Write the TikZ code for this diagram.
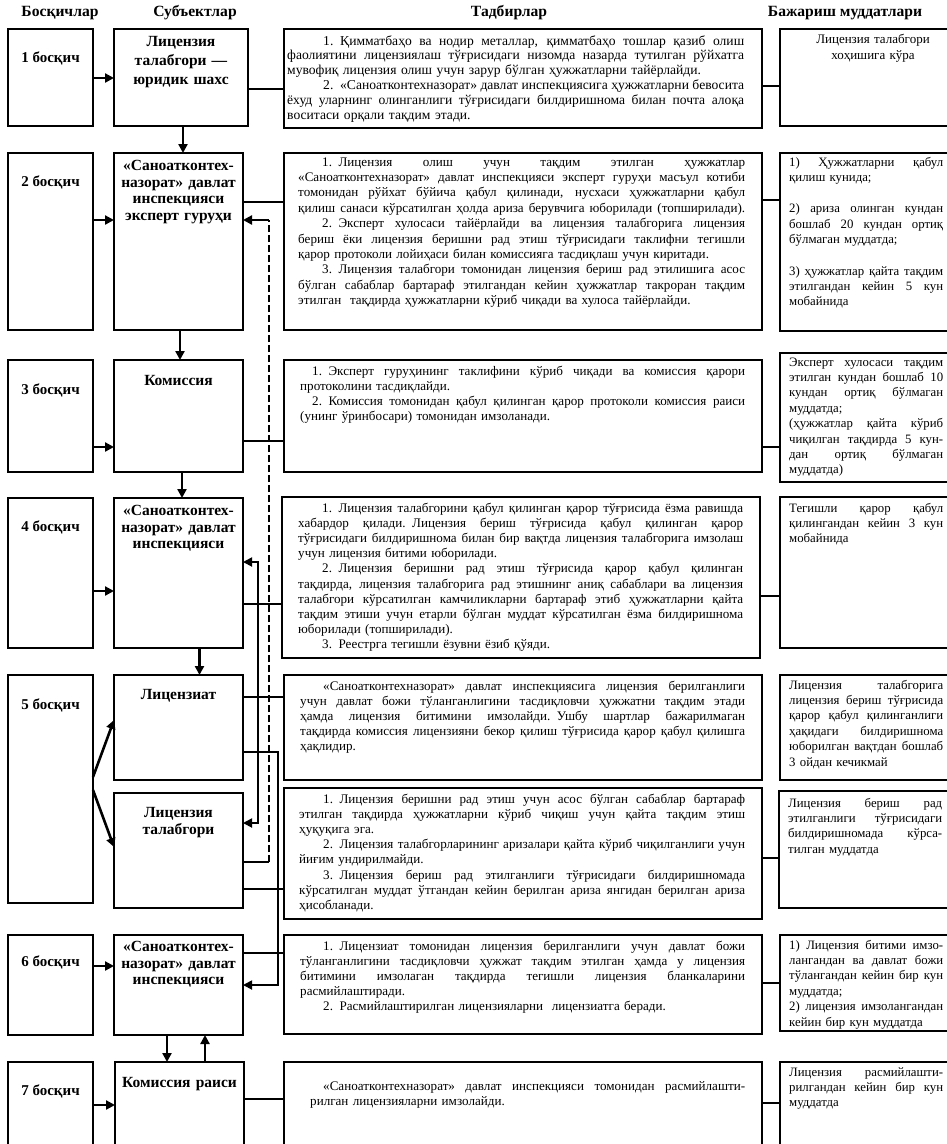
\documentclass[tikz,border=0pt]{standalone}
\usepackage{fontspec}
\setmainfont{Liberation Serif}
\usetikzlibrary{arrows.meta}
\newcommand\jl[2][445pt]{\makebox[#1][s]{\spaceskip=\fontdimen2\font plus 1fil\relax #2}}
\newcommand\jr[1]{\makebox[154pt][s]{\spaceskip=\fontdimen2\font plus 1fil\relax #1}}
\newcommand\bx[5]{\node[boxst, minimum width={#4-#2}, minimum height={#5-#3}] (#1) at (#2,#3) {};}
\tikzset{
  boxst/.style={draw, line width=1.8pt, inner sep=0pt, outer sep=0pt, anchor=north west},
  hdr/.style={font=\fontsize{15.6}{17}\selectfont\bfseries, inner sep=0pt},
  stg/.style={font=\fontsize{15}{17}\selectfont\bfseries, inner sep=0pt},
  sbj/.style={font=\fontsize{15.5}{16.5}\selectfont\bfseries, align=center, text width=150pt, inner sep=0pt, anchor=base},
  midt/.style={font=\fontsize{13.1}{15.2}\selectfont, align=left, inner sep=0pt, anchor=base west, text width=470pt},
  rgtt/.style={font=\fontsize{12.8}{15.4}\selectfont, align=left, inner sep=0pt, anchor=base west, text width=180pt},
  conn/.style={line width=1.3pt},
  medl/.style={line width=1.8pt},
  arr/.style={line width=2.6pt, -{Triangle[length=9pt,width=9pt]}},
  dsh/.style={line width=2.4pt, dash pattern=on 7pt off 3pt},
}
\begin{document}
\begin{tikzpicture}[x=1pt,y=-1pt]
\useasboundingbox (0,0) rectangle (946,1144);
\fill[white] (0,0) rectangle (946,1144);
% headers
\node[hdr] (h1) at (60,13) {Босқичлар};
\node[hdr] (h2) at (195,13) {Субъектлар};
\node[hdr] (h3) at (509,13) {Тадбирлар};
\node[hdr] (h4) at (845,13) {Бажариш муддатлари};
% stage boxes
\bx{st1}{8}{29}{93}{126}
\bx{st2}{8}{153}{93}{330}
\bx{st3}{8}{360}{93}{472}
\bx{st4}{8}{498}{93}{648}
\bx{st5}{8}{675}{93}{903}
\bx{st6}{8}{935}{93}{1035}
\bx{st7}{8}{1062}{93}{1160}
% subject boxes
\bx{sb1}{114}{29}{248}{126}
\bx{sb2}{114}{153}{243}{330}
\bx{sb3}{114}{360}{243}{472}
\bx{sb4}{114}{498}{243}{648}
\bx{sb5a}{114}{675}{243}{780}
\bx{sb5b}{114}{793}{243}{908}
\bx{sb6}{114}{935}{243}{1035}
\bx{sb7}{115}{1062}{244}{1160}
% middle boxes
\bx{m1}{284}{29}{762}{128}
\bx{m2}{284}{153}{762}{330}
\bx{m3}{284}{360}{762}{472}
\bx{m4}{282}{497}{760}{658}
\bx{m5a}{284}{675}{762}{780}
\bx{m5b}{284}{788}{762}{919}
\bx{m6}{284}{935}{762}{1034}
\bx{m7}{284}{1062}{762}{1160}
% right boxes
\bx{r1}{780}{29}{960}{126}
\bx{r2}{780}{153}{960}{331}
\bx{r3}{780}{353}{960}{482}
\bx{r4}{780}{497}{960}{648}
\bx{r5a}{780}{675}{960}{780}
\bx{r5b}{779}{791}{960}{908}
\bx{r6}{780}{935}{960}{1031}
\bx{r7}{780}{1062}{960}{1160}
% stage labels
\node[stg] (l1) at (50.5,58) {1 босқич};
\node[stg] (l2) at (50.5,182) {2 босқич};
\node[stg] (l3) at (50.5,390) {3 босқич};
\node[stg] (l4) at (50.5,527) {4 босқич};
\node[stg] (l5) at (50.5,705) {5 босқич};
\node[stg] (l6) at (50.5,962) {6 босқич};
\node[stg] (l7) at (50.5,1091) {7 босқич};
% subject labels
\node[sbj, font=\fontsize{15.5}{19}\selectfont\bfseries] (s1) at (181,46.5) {Лицензия\\талабгори —\\юридик шахс};
\node[sbj] (s2) at (178.5,170.5) {«Саноатконтех-\\назорат» давлат\\инспекцияси\\эксперт гуруҳи};
\node[sbj] (s3) at (178.5,385.5) {Комиссия};
\node[sbj] (s4) at (178.5,515.5) {«Саноатконтех-\\назорат» давлат\\инспекцияси};
\node[sbj] (s5a) at (178.5,699.5) {Лицензиат};
\node[sbj] (s5b) at (178.5,817.5) {Лицензия\\талабгори};
\node[sbj] (s6) at (178.5,951.5) {«Саноатконтех-\\назорат» давлат\\инспекцияси};
\node[sbj] (s7) at (179.5,1087.5) {Комиссия раиси};
% middle texts
\node[midt, font=\fontsize{13.6}{14.8}\selectfont] (t1) at (287,45) {%
\jl[457pt]{\hspace*{36pt}1. Қимматбаҳо ва нодир металлар, қимматбаҳо тошлар қазиб олиш}\\
\jl[457pt]{фаолиятини лицензиялаш тўғрисидаги низомда назарда тутилган рўйхатга}\\
мувофиқ лицензия олиш учун зарур бўлган ҳужжатларни тайёрлайди.\\
\jl[457pt]{\hspace*{36pt}2. «Саноатконтехназорат» давлат инспекциясига ҳужжатларни бевосита}\\
\jl[457pt]{ёхуд уларнинг олинганлиги тўғрисидаги билдиришнома билан почта алоқа}\\
воситаси орқали тақдим этади.};
\node[midt, font=\fontsize{13.1}{15.4}\selectfont] (t2) at (298,166) {%
\jl[447pt]{\hspace*{24pt}1. Лицензия олиш учун тақдим этилган ҳужжатлар}\\
\jl[447pt]{«Саноатконтехназорат» давлат инспекцияси эксперт гуруҳи масъул котиби}\\
\jl[447pt]{томонидан рўйхат бўйича қабул қилинади, нусхаси ҳужжатларни қабул}\\
\jl[447pt]{қилиш санаси кўрсатилган ҳолда ариза берувчига юборилади (топширилади).}\\
\jl[447pt]{\hspace*{24pt}2. Эксперт хулосаси тайёрлайди ва лицензия талабгорига лицензия}\\
\jl[447pt]{бериш ёки лицензия беришни рад этиш тўғрисидаги таклифни тегишли}\\
қарор протоколи лойиҳаси билан комиссияга тасдиқлаш учун киритади.\\
\jl[447pt]{\hspace*{24pt}3. Лицензия талабгори томонидан лицензия бериш рад этилишига асос}\\
\jl[447pt]{бўлган сабаблар бартараф этилгандан кейин ҳужжатлар такроран тақдим}\\
этилган\ \ тақдирда ҳужжатларни кўриб чиқади ва хулоса тайёрлайди.};
\node[midt, font=\fontsize{13.1}{15}\selectfont] (t3) at (300,375) {%
\jl{\hspace*{12pt}1. Эксперт гуруҳининг таклифини кўриб чиқади ва комиссия қарори}\\
протоколини тасдиқлайди.\\
\jl{\hspace*{12pt}2. Комиссия томонидан қабул қилинган қарор протоколи комиссия раиси}\\
(унинг ўринбосари) томонидан имзоланади.};
\node[midt] (t4) at (298,512) {%
\jl{\hspace*{24pt}1. Лицензия талабгорини қабул қилинган қарор тўғрисида ёзма равишда}\\
\jl{хабардор қилади. Лицензия бериш тўғрисида қабул қилинган қарор}\\
\jl{тўғрисидаги билдиришнома билан бир вақтда лицензия талабгорига имзолаш}\\
учун лицензия битими юборилади.\\
\jl{\hspace*{24pt}2. Лицензия беришни рад этиш тўғрисида қарор қабул қилинган}\\
\jl{тақдирда, лицензия талабгорига рад этишнинг аниқ сабаблари ва лицензия}\\
\jl{талабгори кўрсатилган камчиликларни бартараф этиб ҳужжатларни қайта}\\
\jl{тақдим этиши учун етарли бўлган муддат кўрсатилган ёзма билдиришнома}\\
юборилади (топширилади).\\
\hspace*{24pt}3. Реестрга тегишли ёзувни ёзиб қўяди.};
\node[midt] (t5a) at (300,690) {%
\jl{\hspace*{23pt}«Саноатконтехназорат» давлат инспекциясига лицензия берилганлиги}\\
\jl{учун давлат божи тўланганлигини тасдиқловчи ҳужжатни тақдим этади}\\
\jl{ҳамда лицензия битимини имзолайди. Ушбу шартлар бажарилмаган}\\
\jl{тақдирда комиссия лицензияни бекор қилиш тўғрисида қарор қабул қилишга}\\
ҳақлидир.};
\node[midt] (t5b) at (299,803) {%
\jl[446pt]{\hspace*{24pt}1. Лицензия беришни рад этиш учун асос бўлган сабаблар бартараф}\\
\jl[446pt]{этилган тақдирда ҳужжатларни кўриб чиқиш учун қайта тақдим этиш}\\
ҳуқуқига эга.\\
\jl[446pt]{\hspace*{24pt}2. Лицензия талабгорларининг аризалари қайта кўриб чиқилганлиги учун}\\
йиғим ундирилмайди.\\
\jl[446pt]{\hspace*{24pt}3. Лицензия бериш рад этилганлиги тўғрисидаги билдиришномада}\\
\jl[446pt]{кўрсатилган муддат ўтгандан кейин берилган ариза янгидан берилган ариза}\\
ҳисобланади.};
\node[midt] (t6) at (300,950) {%
\jl{\hspace*{23pt}1. Лицензиат томонидан лицензия берилганлиги учун давлат божи}\\
\jl{тўланганлигини тасдиқловчи ҳужжат тақдим этилган ҳамда у лицензия}\\
\jl{битимини имзолаган тақдирда тегишли лицензия бланкаларини}\\
расмийлаштиради.\\
\hspace*{23pt}2. Расмийлаштирилган лицензияларни\ \ лицензиатга беради.};
\node[midt] (t7) at (310,1090) {%
\jl[435pt]{\hspace*{13pt}«Саноатконтехназорат» давлат инспекцияси томонидан расмийлашти-}\\
рилган лицензияларни имзолайди.};
% right texts
\node[font=\fontsize{13}{16}\selectfont, align=center, text width=170pt, inner sep=0pt, anchor=base] (u1) at (873,43) {Лицензия талабгори\\хоҳишига кўра};
\node[rgtt] (u2) at (789,166) {%
\jr{1) Ҳужжатларни қабул}\\
қилиш кунида;\\[16pt]
\jr{2) ариза олинган кундан}\\
\jr{бошлаб 20 кундан ортиқ}\\
бўлмаган муддатда;\\[16pt]
\jr{3) ҳужжатлар қайта тақдим}\\
\jr{этилгандан кейин 5 кун}\\
мобайнида};
\node[rgtt] (u3) at (789,366) {%
\jr{Эксперт хулосаси тақдим}\\
\jr{этилган кундан бошлаб 10}\\
\jr{кундан ортиқ бўлмаган}\\
муддатда;\\
\jr{(ҳужжатлар қайта кўриб}\\
\jr{чиқилган тақдирда 5 кун-}\\
\jr{дан ортиқ бўлмаган}\\
муддатда)};
\node[rgtt] (u4) at (789,512) {%
\jr{Тегишли қарор қабул}\\
\jr{қилингандан кейин 3 кун}\\
мобайнида};
\node[rgtt] (u5a) at (789,689) {%
\jr{Лицензия талабгорига}\\
\jr{лицензия бериш тўғрисида}\\
\jr{қарор қабул қилинганлиги}\\
\jr{ҳақидаги билдиришнома}\\
\jr{юборилган вақтдан бошлаб}\\
3 ойдан кечикмай};
\node[rgtt] (u5b) at (788,807) {%
\jr{Лицензия бериш рад}\\
\jr{этилганлиги тўғрисидаги}\\
\jr{билдиришномада кўрса-}\\
тилган муддатда};
\node[rgtt] (u6) at (789,949) {%
\jr{1) Лицензия битими имзо-}\\
\jr{лангандан ва давлат божи}\\
\jr{тўлангандан кейин бир кун}\\
муддатда;\\
\jr{2) лицензия имзолангандан}\\
кейин бир кун муддатда};
\node[rgtt] (u7) at (789,1076) {%
\jr{Лицензия расмийлашти-}\\
\jr{рилгандан кейин бир кун}\\
муддатда};
% stage -> subject arrows
\draw[arr] (st1.east |- 0,78) -- (sb1.west |- 0,78);
\draw[arr] (st2.east |- 0,220) -- (sb2.west |- 0,220);
\draw[arr] (st3.east |- 0,447) -- (sb3.west |- 0,447);
\draw[arr] (st4.east |- 0,591) -- (sb4.west |- 0,591);
\draw[arr] (st5.east |- 0,777) -- (sb5a.west |- 0,720);
\draw[arr] (st5.east |- 0,790) -- (sb5b.west |- 0,847);
\draw[arr] (st6.east |- 0,966) -- (sb6.west |- 0,966);
\draw[arr] (st7.east |- 0,1105) -- (sb7.west |- 0,1105);
% subject -> subject arrows
\draw[arr] (sb1.south -| 183,0) -- (sb2.north -| 183,0);
\draw[arr] (sb2.south -| 180,0) -- (sb3.north -| 180,0);
\draw[arr] (sb3.south -| 182,0) -- (sb4.north -| 182,0);
\draw[arr] (sb4.south -| 199.5,0) -- (sb5a.north -| 199.5,0);
\draw[arr] (sb6.south -| 167,0) -- (sb7.north -| 167,0);
\draw[arr] (sb7.north -| 205,0) -- (sb6.south -| 205,0);
% subject -> middle
\draw[conn] (sb1.east |- 0,89) -- (m1.west |- 0,89);
\draw[conn] (sb2.east |- 0,202) -- (m2.west |- 0,202);
\draw[conn] (sb3.east |- 0,441) -- (m3.west |- 0,441);
\draw[conn] (sb4.east |- 0,604) -- (m4.west |- 0,604);
\draw[conn] (sb5a.east |- 0,697) -- (m5a.west |- 0,697);
\draw[conn] (sb5b.east |- 0,889) -- (m5b.west |- 0,889);
\draw[conn] (sb6.east |- 0,953) -- (m6.west |- 0,953);
\draw[conn] (sb7.east |- 0,1099) -- (m7.west |- 0,1099);
% middle -> right
\draw[conn] (m1.east |- 0,86) -- (r1.west |- 0,86);
\draw[conn] (m2.east |- 0,200) -- (r2.west |- 0,200);
\draw[conn] (m3.east |- 0,447) -- (r3.west |- 0,447);
\draw[conn] (m4.east |- 0,596) -- (r4.west |- 0,596);
\draw[conn] (m5b.east |- 0,858) -- (r5b.west |- 0,858);
\draw[conn] (m6.east |- 0,983) -- (r6.west |- 0,983);
\draw[conn] (m7.east |- 0,1103) -- (r7.west |- 0,1103);
% feedback lines
\coordinate (d1) at (269,862);
\coordinate (d2) at (269,220);
\draw[conn] (sb5b.east |- d1) -- (d1);
\draw[dsh] (d1) -- (d2);
\draw[arr] (d2) -- (sb2.east |- d2);
\coordinate (e1) at (258,562);
\coordinate (e2) at (258,823);
\draw[medl, {Triangle[length=9pt,width=9pt]}-{Triangle[length=9pt,width=9pt]}] (sb4.east |- e1) -- (e1) -- (e2) -- (sb5b.east |- e2);
\coordinate (f1) at (278,752);
\coordinate (f2) at (278,985);
\draw[medl, -{Triangle[length=9pt,width=9pt]}] (sb5a.east |- f1) -- (f1) -- (f2) -- (sb6.east |- f2);
\end{tikzpicture}
\end{document}
